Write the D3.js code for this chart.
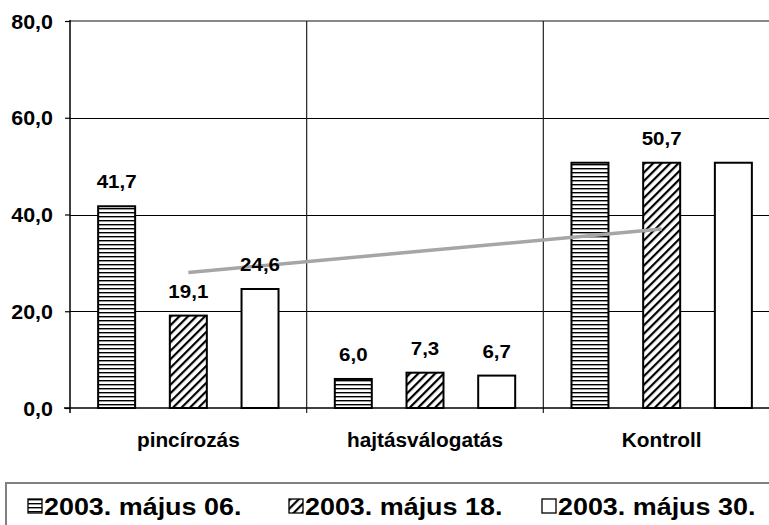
<!DOCTYPE html>
<html>
<head>
<meta charset="utf-8">
<script src="https://cdn.jsdelivr.net/npm/d3@7/dist/d3.min.js"></script>
<style>
  html, body { margin: 0; padding: 0; background: #fff; }
  svg { display: block; }
  text { font-family: "Liberation Sans", Arial, sans-serif; font-weight: bold; fill: #000; }
</style>
</head>
<body>
<svg id="chart" width="769" height="525"></svg>
<script>
// Categories and series
const categories = ["pincírozás", "hajtásválogatás", "Kontroll"];
const seriesNames = ["2003. május 06.", "2003. május 18.", "2003. május 30."];
const may06 = [41.7, 6.0, 50.7];
const may18 = [19.1, 7.3, 50.7];
const may30 = [24.6, 6.7, 50.7];
// which value labels are printed (per category, per series)
const labelShown = [
  [true, true, true],
  [true, true, true],
  [false, true, false]
];
// grey linear trend across the categories
const trendValues = [28.0, 32.5, 37.0];
const yTicks = [0, 20, 40, 60, 80];

const seriesValues = [may06, may18, may30];
const patterns = ["hstripe", "diag", "none"];

const svg = d3.select("#chart");
const plot = { left: 70, right: 780, top: 21, bottom: 408 };

// hatch patterns
const defs = svg.append("defs");
const ph = defs.append("pattern").attr("id", "hstripe")
  .attr("patternUnits", "userSpaceOnUse").attr("width", 8).attr("height", 4);
ph.append("rect").attr("width", 8).attr("height", 4).attr("fill", "#fff");
ph.append("rect").attr("y", 0).attr("width", 8).attr("height", 1.4).attr("fill", "#000");

const pd = defs.append("pattern").attr("id", "diag")
  .attr("patternUnits", "userSpaceOnUse").attr("width", 6).attr("height", 6)
  .attr("patternTransform", "rotate(45)");
pd.append("rect").attr("width", 6).attr("height", 6).attr("fill", "#fff");
pd.append("rect").attr("x", 0).attr("width", 2.2).attr("height", 6).attr("fill", "#000");

const fillFor = p => p === "none" ? "#fff" : `url(#${p})`;

// scales
const x0 = d3.scaleBand().domain(categories).range([plot.left, plot.right]).padding(0);
const x1 = d3.scaleBand().domain(seriesNames).range([0, x0.bandwidth()])
  .paddingInner(0.484).paddingOuter(0.3925);
const y = d3.scaleLinear().domain([0, 80]).range([plot.bottom, plot.top]);

const fmt = v => d3.format(".1f")(v).replace(".", ",");

// horizontal gridlines
svg.append("g").selectAll("line")
  .data(yTicks.filter(t => t > 0 && t < 80))
  .join("line")
  .attr("x1", plot.left).attr("x2", plot.right)
  .attr("y1", d => Math.round(y(d)) + 0.5).attr("y2", d => Math.round(y(d)) + 0.5)
  .attr("stroke", "#000").attr("stroke-width", 1);

// plot area top border
svg.append("line")
  .attr("x1", plot.left).attr("x2", plot.right)
  .attr("y1", y(80)).attr("y2", y(80))
  .attr("stroke", "#888").attr("stroke-width", 2);

// vertical category gridlines
svg.append("g").selectAll("line")
  .data(categories.slice(1))
  .join("line")
  .attr("x1", d => x0(d)).attr("x2", d => x0(d))
  .attr("y1", plot.top).attr("y2", plot.bottom + 5)
  .attr("stroke", "#222").attr("stroke-width", 1.2);

// bars
const cells = (c, ci) => seriesNames.map((s, si) => ({ s, si, ci, v: seriesValues[si][ci] }));

const groups = svg.append("g").selectAll("g")
  .data(categories)
  .join("g")
  .attr("transform", d => `translate(${x0(d)},0)`);

groups.selectAll("rect")
  .data(cells)
  .join("rect")
  .attr("x", d => x1(d.s))
  .attr("width", x1.bandwidth())
  .attr("y", d => y(d.v))
  .attr("height", d => y(0) - y(d.v))
  .attr("fill", d => fillFor(patterns[d.si]))
  .attr("stroke", "#000")
  .attr("stroke-width", 2);

// trend line
const line = d3.line()
  .x((d, i) => x0(categories[i]) + x0.bandwidth() / 2)
  .y(d => y(d));
svg.append("path")
  .datum(trendValues)
  .attr("d", line)
  .attr("fill", "none")
  .attr("stroke", "#a6a6a6")
  .attr("stroke-width", 3.5);

// value labels (above the trend line)
svg.append("g").selectAll("g")
  .data(categories)
  .join("g")
  .attr("transform", d => `translate(${x0(d)},0)`)
  .selectAll("text")
  .data((c, ci) => cells(c, ci).filter(d => labelShown[d.ci][d.si]))
  .join("text")
  .attr("text-anchor", "middle")
  .attr("font-size", 19)
  .attr("transform", d => `translate(${x1(d.s) + x1.bandwidth() / 2},${y(d.v) - 18}) scale(1.08,1)`)
  .text(d => fmt(d.v));

// y axis
const yAxis = svg.append("g")
  .attr("transform", `translate(${plot.left},0)`)
  .call(d3.axisLeft(y).tickValues(yTicks).tickSize(5).tickFormat(fmt));
yAxis.select(".domain").remove();
yAxis.selectAll(".tick line").attr("stroke", "#000").attr("stroke-width", 1.2);
yAxis.selectAll(".tick text")
  .attr("font-size", 19.5)
  .attr("font-family", "Liberation Sans, Arial, sans-serif")
  .attr("font-weight", "bold")
  .attr("fill", "#000")
  .attr("x", null).attr("dy", null)
  .attr("transform", "translate(-17,7) scale(1.1,1)");
svg.append("line")
  .attr("x1", plot.left).attr("x2", plot.left)
  .attr("y1", plot.top - 1).attr("y2", plot.bottom + 5)
  .attr("stroke", "#000").attr("stroke-width", 1.5);

// x axis
svg.append("line")
  .attr("x1", plot.left - 6).attr("x2", plot.right)
  .attr("y1", plot.bottom).attr("y2", plot.bottom)
  .attr("stroke", "#000").attr("stroke-width", 1.5);

svg.append("g").selectAll("text")
  .data(categories)
  .join("text")
  .attr("text-anchor", "middle")
  .attr("font-size", 20)
  .attr("transform", d => `translate(${x0(d) + x0.bandwidth() / 2},447) scale(1.04,1)`)
  .text(d => d);

// legend
svg.append("rect")
  .attr("x", 6).attr("y", 483)
  .attr("width", 800).attr("height", 80)
  .attr("fill", "#fff")
  .attr("stroke", "#808080").attr("stroke-width", 2);

const legendX = [28, 289, 542];
const leg = svg.append("g").selectAll("g")
  .data(seriesNames)
  .join("g")
  .attr("transform", (d, i) => `translate(${legendX[i]},499)`);
leg.append("rect")
  .attr("width", 14).attr("height", 14)
  .attr("fill", (d, i) => fillFor(patterns[i]))
  .attr("stroke", "#000").attr("stroke-width", 1.3);
leg.append("text")
  .attr("font-size", 23)
  .attr("transform", "translate(16,15.5) scale(1.17,1)")
  .text(d => d);
</script>
</body>
</html>
